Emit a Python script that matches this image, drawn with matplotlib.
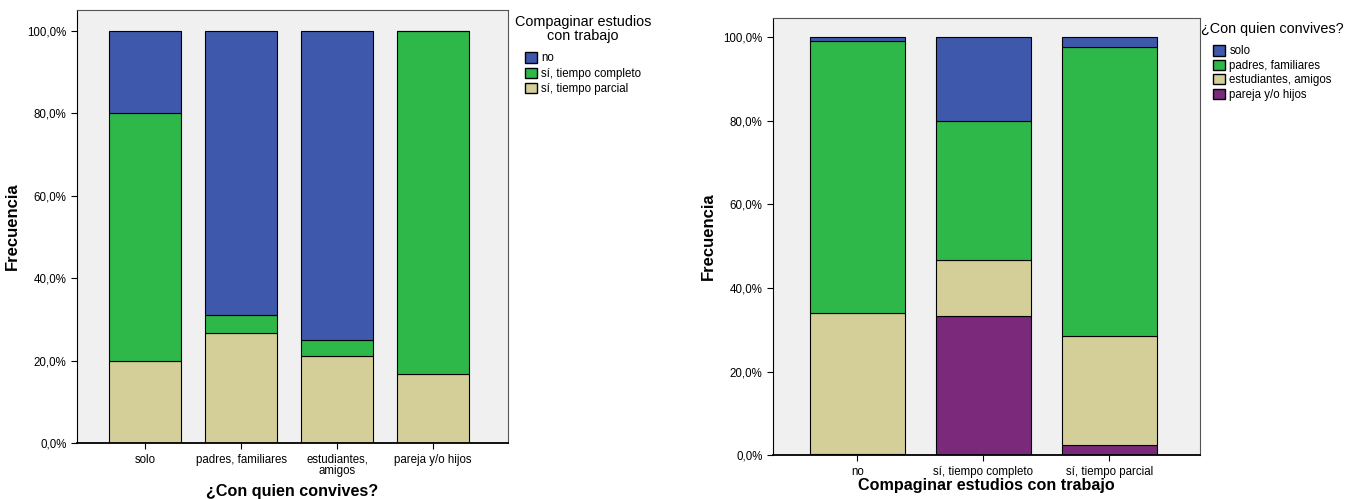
import matplotlib.pyplot as plt
import numpy as np
from matplotlib.ticker import FuncFormatter
from matplotlib.patches import Patch

plt.rcParams['font.family'] = ['Liberation Sans', 'DejaVu Sans']

# grafico 1: convivencia vs trabajo
convive = ["solo", "padres, familiares", "estudiantes,\namigos", "pareja y/o hijos"]
parcial = [20.0, 26.7, 21.2, 16.7]
completo = [60.0, 4.5, 3.8, 83.3]
no_trab = [20.0, 68.8, 75.0, 0.0]

# grafico 2: trabajo vs convivencia
trabajo = ["no", "sí, tiempo completo", "sí, tiempo parcial"]
pareja = [0.2, 33.3, 2.4]
estudiantes = [33.8, 13.4, 26.2]
padres = [65.0, 33.3, 69.0]
solo = [1.0, 20.0, 2.4]

azul = "#3e58ab"
verde = "#2fb84a"
beige = "#d4cf98"
morado = "#7b2a7b"

fig = plt.figure(figsize=(13.57, 4.99), dpi=100)

def pct(v, pos):
    return ("%.1f%%" % v).replace(".", ",")

def estilo(ax):
    ax.set_facecolor("#f0f0f0")
    ax.yaxis.set_major_formatter(FuncFormatter(pct))
    ax.set_yticks([0, 20, 40, 60, 80, 100])
    ax.tick_params(labelsize=8.3, length=4, direction="out")
    for s in ax.spines.values():
        s.set_color("#555555")
        s.set_linewidth(0.8)
    ax.spines["bottom"].set_color("black")
    ax.spines["bottom"].set_linewidth(1.3)
    ax.spines["left"].set_color("black")
    ax.set_ylabel("Frecuencia", fontsize=12, fontweight="bold", labelpad=5)

def leyenda(handles, titulo, xc, ytop, esp):
    leg = fig.legend(handles=handles, title=titulo, loc="upper center",
                     bbox_to_anchor=(xc, ytop), frameon=False, fontsize=8.3,
                     title_fontsize=10.4, handlelength=1.1, handleheight=1.0,
                     handletextpad=0.35, labelspacing=esp, borderaxespad=0)
    leg.get_title().set_multialignment("center")
    leg.get_title().set_linespacing(0.95)
    leg._legend_box.sep = 7
    return leg

# --- izquierda
ax1 = fig.add_axes([0.0567, 0.112, 0.3177, 0.868])
x = np.arange(len(convive))
kw = dict(width=0.75, edgecolor="black", linewidth=0.8)
ax1.bar(x, parcial, color=beige, **kw)
ax1.bar(x, completo, bottom=parcial, color=verde, **kw)
ax1.bar(x, no_trab, bottom=np.add(parcial, completo), color=azul, **kw)
ax1.set_xticks(x)
ax1.set_xticklabels(convive, linespacing=0.95)
ax1.set_xlim(-0.71, 3.78)
ax1.set_ylim(0, 105.1)
estilo(ax1)
ax1.set_xlabel("¿Con quien convives?", fontsize=11.6, fontweight="bold", labelpad=5)
h1 = [Patch(facecolor=azul, edgecolor="black", label="no"),
      Patch(facecolor=verde, edgecolor="black", label="sí, tiempo completo"),
      Patch(facecolor=beige, edgecolor="black", label="sí, tiempo parcial")]
leyenda(h1, "Compaginar estudios\ncon trabajo", 0.4296, 0.979, 0.28)

# --- derecha
ax2 = fig.add_axes([0.5696, 0.088, 0.3147, 0.876])
x2 = np.arange(len(trabajo))
b1 = np.add(pareja, estudiantes)
b2 = np.add(b1, padres)
ax2.bar(x2, pareja, color=morado, **kw)
ax2.bar(x2, estudiantes, bottom=pareja, color=beige, **kw)
ax2.bar(x2, padres, bottom=b1, color=verde, **kw)
ax2.bar(x2, solo, bottom=b2, color=azul, **kw)
ax2.set_xticks(x2)
ax2.set_xticklabels(trabajo)
ax2.set_xlim(-0.67, 2.72)
ax2.set_ylim(0, 104.6)
estilo(ax2)
ax2.set_xlabel("Compaginar estudios con trabajo", fontsize=11.6, fontweight="bold", labelpad=0)
h2 = [Patch(facecolor=azul, edgecolor="black", label="solo"),
      Patch(facecolor=verde, edgecolor="black", label="padres, familiares"),
      Patch(facecolor=beige, edgecolor="black", label="estudiantes, amigos"),
      Patch(facecolor=morado, edgecolor="black", label="pareja y/o hijos")]
leyenda(h2, "¿Con quien convives?", 0.9375, 0.966, 0.2)

fig.savefig("out.png", dpi=100)
